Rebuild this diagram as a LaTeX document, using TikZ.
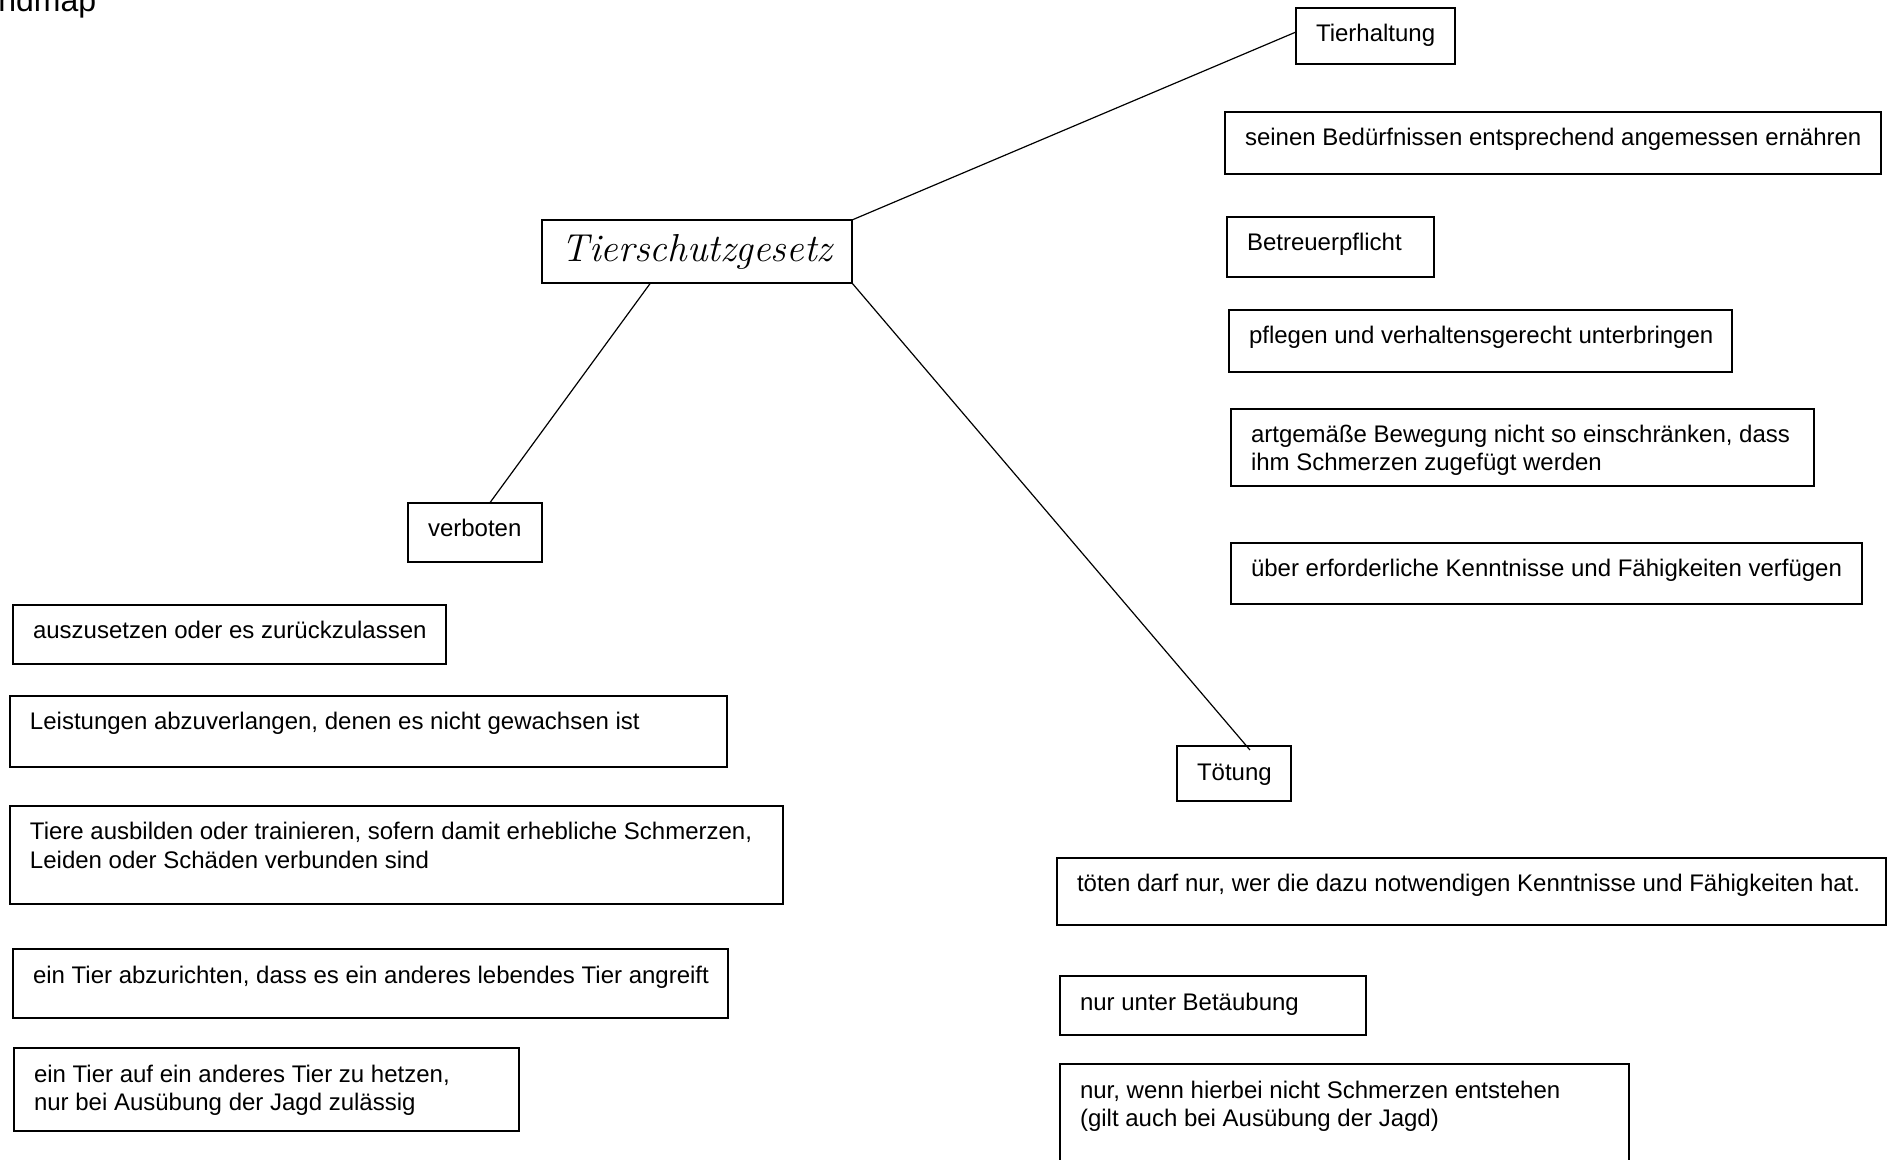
\documentclass[tikz,border=0pt]{standalone}
\usepackage{fontspec}
\newfontfamily\arialfont{Liberation Sans}
\usetikzlibrary{calc}
\tikzset{
  box/.style={draw, line width=0.75pt, inner sep=0pt, outer sep=0pt, anchor=north west,
    font=\arialfont\fontsize{12}{14}\selectfont},
  titlebox/.style={draw, line width=0.75pt, inner sep=0pt, outer sep=0pt, anchor=north west,
    font=\rmfamily\itshape\fontsize{19.5}{22}\selectfont},
  conn/.style={draw, line width=0.6pt},
}
\newcommand\mapbox[6]{%
  \node[box] (#1) at (#2,#3) {\parbox[c][\dimexpr #5pt/2\relax][t]{\dimexpr #4pt/2\relax}{%
    \parindent=0pt\vspace*{7.2pt}\hspace*{10pt}\begin{tabular}[t]{@{}l@{}}#6\end{tabular}}};}
\begin{document}
\begin{tikzpicture}[x=0.5pt,y=-0.5pt]
\path[use as bounding box] (0,0) rectangle (1887,1160);
\clip (0,0) rectangle (1887,1160);
\node[anchor=base west, inner sep=0pt, font=\arialfont\fontsize{16}{18}\selectfont] (mm) at (-2,12) {ndmap};

\node[titlebox, minimum width=155pt, minimum height=31.5pt] (title) at (542,220) {Tierschutzgesetz};

\mapbox{th}{1296}{8}{159}{56}{Tierhaltung}
\mapbox{s1}{1225}{112}{656}{62}{seinen Bedürfnissen entsprechend angemessen ernähren}
\mapbox{s2}{1227}{217}{207}{60}{Betreuerpflicht}
\mapbox{s3}{1229}{310}{503}{62}{pflegen und verhaltensgerecht unterbringen}
\mapbox{s4}{1231}{409}{583}{77}{artgemäße Bewegung nicht so einschränken, dass\\ihm Schmerzen zugefügt werden}
\mapbox{s5}{1231}{543}{631}{61}{über erforderliche Kenntnisse und Fähigkeiten verfügen}

\mapbox{vb}{408}{503}{134}{59}{verboten}
\mapbox{v1}{13}{605}{433}{59}{auszusetzen oder es zurückzulassen}
\mapbox{v2}{10}{696}{717}{71}{Leistungen abzuverlangen, denen es nicht gewachsen ist}
\mapbox{v3}{10}{806}{773}{98}{Tiere ausbilden oder trainieren, sofern damit erhebliche Schmerzen,\\Leiden oder Schäden verbunden sind}
\mapbox{v4}{13}{949}{715}{69}{ein Tier abzurichten, dass es ein anderes lebendes Tier angreift}
\mapbox{v5}{14}{1048}{505}{83}{ein Tier auf ein anderes Tier zu hetzen,\\nur bei Ausübung der Jagd zulässig}

\mapbox{tt}{1177}{746}{114}{55}{Tötung}
\mapbox{t1}{1057}{858}{829}{67}{töten darf nur, wer die dazu notwendigen Kenntnisse und Fähigkeiten hat.}
\mapbox{t2}{1060}{976}{306}{59}{nur unter Betäubung}
\mapbox{t3}{1060}{1064}{569}{120}{nur, wenn hierbei nicht Schmerzen entstehen\\(gilt auch bei Ausübung der Jagd)}

\draw[conn] (title.north east) -- ($(th.west)+(0,-4)$);
\draw[conn] ($(title.south west)!0.35!(title.south east)$) -- ($(vb.north west)!0.61!(vb.north east)$);
\draw[conn] (title.south east) -- ($(tt.north west)!0.64!(tt.north east)+(0,4)$);
\end{tikzpicture}
\end{document}
